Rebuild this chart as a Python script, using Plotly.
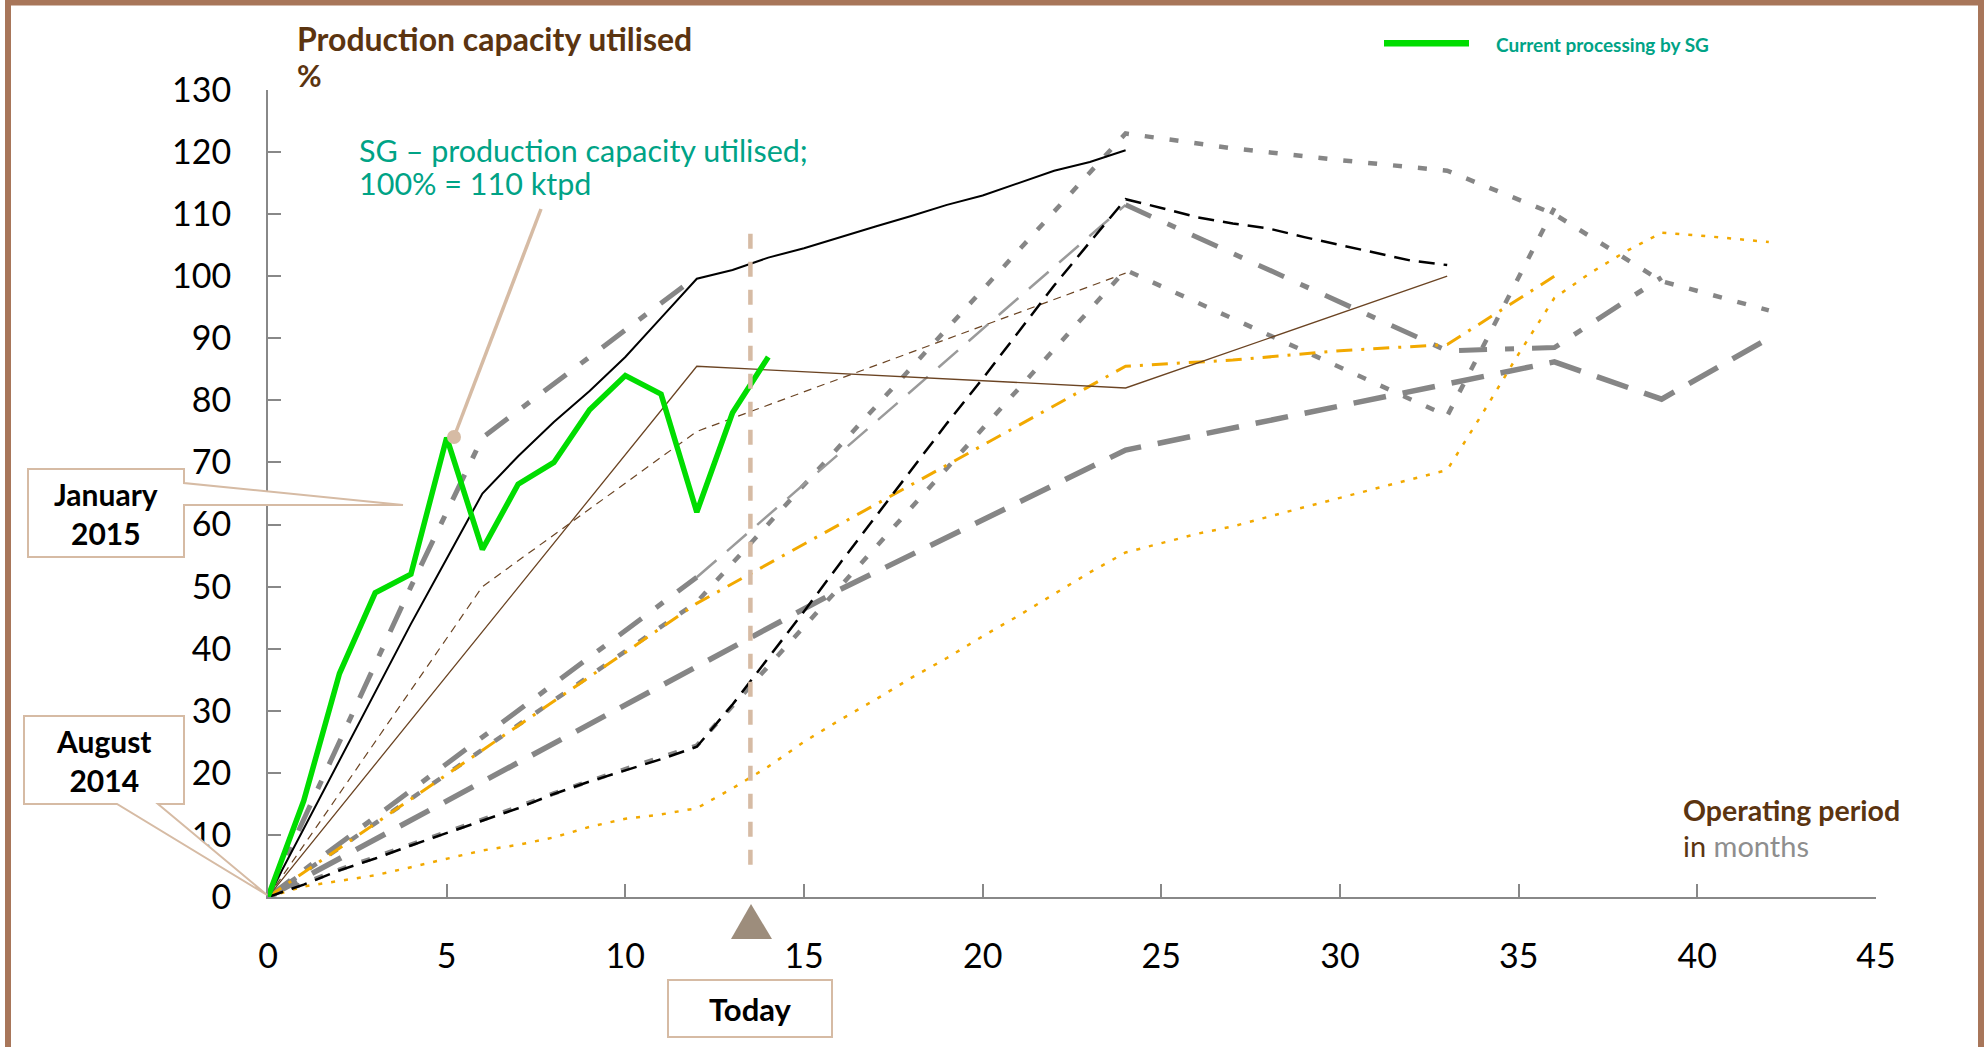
import plotly.graph_objects as go

# ---------------- data ----------------
x_ticks = [0, 5, 10, 15, 20, 25, 30, 35, 40, 45]
y_ticks = list(range(0, 131, 10))

# current processing by SG (monthly)
sg_months = list(range(0, 15))
sg_util = [0, 15.5, 36, 49, 52, 74, 56, 66.5, 70, 78.5, 84, 81, 62, 78, 87]

# reference plants
black_solid_months = list(range(0, 25))
black_solid = [0, 11, 22, 33, 44, 54.5, 65, 71, 76.5, 81.5, 87, 93.3, 99.6,
               101, 103, 104.5, 106.3, 108, 109.7, 111.5, 113, 115, 117, 118.4, 120.3]

gray_dashdot_a_months = [0, 4, 6, 12]
gray_dashdot_a = [0, 50, 74, 100]

brown_solid_months = [0, 12, 24, 33]
brown_solid = [0, 85.5, 82, 100]

brown_dashed_months = [0, 6, 12, 24]
brown_dashed = [0, 50, 75, 100.5]

black_dashed_months = list(range(0, 34))
black_dashed = [0, 2, 4.3, 6.2, 8.3, 10.3, 12.2, 14.3, 16.6, 18.6, 20.4, 22.2, 24.2,
                31, 38.5, 46, 53.7, 61.2, 68.8, 76.3, 83.5, 91, 98.5, 105.5, 112.4,
                111, 109.5, 108.5, 107.7, 106.3, 105, 103.7, 102.5, 101.8]

gray_dot_a_months = [0, 12, 24, 27, 30, 33, 36, 39, 42]
gray_dot_a = [0, 47.5, 123, 120.6, 118.7, 117, 110, 99.2, 94.5]

gray_dot_b_months = list(range(0, 13)) + [24, 33, 36]
gray_dot_b = [0, 2.2, 4.4, 6.4, 8.4, 10.5, 12.5, 14.5, 16.7, 18.7, 20.6, 22.5, 24.4,
              101, 77.5, 111]

gray_dashdot_b_months = [0, 12, 24, 27, 30, 33, 36, 39]
gray_dashdot_b = [0, 51.5, 111.5, 103.6, 95.7, 88, 88.5, 99.8]

gray_longdash_months = [0, 16, 24, 27, 30, 33, 36, 39, 42]
gray_longdash = [0, 49.5, 72, 75.6, 79.2, 82.8, 86.2, 80.2, 90]

orange_dashdot_months = [0, 12, 24, 27, 30, 33, 36]
orange_dashdot = [0, 47.3, 85.5, 86.5, 88, 89, 100]

orange_dotted_months = list(range(0, 43))
orange_dotted = [0, 1.7, 2.6, 3.5, 4.8, 6.2, 7.5, 8.4, 9.6, 11.3, 12.6, 13.3, 14.3,
                 17.5, 21, 25, 28.5, 31.8, 35.3, 38.5, 42, 45.3, 48.8, 52.3, 55.5,
                 57, 58.5, 59.7, 61.3, 62.8, 64.3, 65.8, 67.3, 68.8,
                 78, 87.5, 96.5, 100.5, 104, 107, 106.6, 106, 105.5]

today_month = 13.5
today_line_span = [5.2, 107]

# ---------------- styling ----------------
GRAY = "#868686"
ORANGE = "#F2A900"
BROWN = "#6B4423"
GREEN = "#00DD00"
TEAL = "#00A386"
TITLE_BROWN = "#5B3410"
TAN = "#D6BBA4"
FRAME = "#A8765A"
FONT = "Lato"

W, H = 1986, 1047
L, R, T, B = 268, 1876, 90, 897


def px(x):
    return (x - L) / (R - L)


def py(y):
    return (B - y) / (B - T)


fig = go.Figure()


def add_line(xs, ys, color, width, dash="solid"):
    fig.add_trace(go.Scatter(x=xs, y=ys, mode="lines", showlegend=False,
                             hoverinfo="skip",
                             line=dict(color=color, width=width, dash=dash)))


add_line(gray_longdash_months, gray_longdash, GRAY, 5.5, "33px,17px")
add_line(gray_dot_b_months, gray_dot_b, GRAY, 4.5, "9px,16px")
add_line(gray_dot_a_months, gray_dot_a, GRAY, 4.5, "9px,16px")

# long dash-dot series: the 12-24 month stretch is drawn thinner
i12 = gray_dashdot_b_months.index(12)
i24 = gray_dashdot_b_months.index(24)
add_line(gray_dashdot_b_months[:i12 + 1], gray_dashdot_b[:i12 + 1], GRAY, 5, "28px,18px,9px,18px")
add_line(gray_dashdot_b_months[i12:i24 + 1], gray_dashdot_b[i12:i24 + 1], "#9A9A9A", 2.5, "26px,14px")
add_line(gray_dashdot_b_months[i24:], gray_dashdot_b[i24:], GRAY, 5, "28px,18px,9px,18px")

add_line(orange_dotted_months, orange_dotted, ORANGE, 2.5, "4px,9px")
add_line(orange_dashdot_months, orange_dashdot, ORANGE, 3, "16px,9px,3px,9px")
add_line(gray_dashdot_a_months, gray_dashdot_a, GRAY, 5, "28px,18px,9px,18px")
add_line(brown_solid_months, brown_solid, BROWN, 1.3)
add_line(brown_dashed_months, brown_dashed, BROWN, 1.2, "8px,6px")
add_line(black_dashed_months, black_dashed, "black", 2.5, "16px,9px")
add_line(black_solid_months, black_solid, "black", 2)
fig.add_trace(go.Scatter(x=sg_months, y=sg_util, mode="lines", showlegend=False,
                         hoverinfo="skip",
                         line=dict(color=GREEN, width=5.5)))

shapes = []
# outer frame
shapes.append(dict(type="rect", xref="paper", yref="paper",
                   x0=px(8), x1=px(1981), y0=py(2.5), y1=py(1080),
                   line=dict(color=FRAME, width=6), fillcolor="rgba(0,0,0,0)", layer="above"))
# "today" marker line
shapes.append(dict(type="line", xref="x", yref="y", x0=today_month, x1=today_month,
                   y0=today_line_span[0], y1=today_line_span[1],
                   line=dict(color=TAN, width=4.5, dash="15px,13px"), layer="above"))
# "today" triangle below the axis
shapes.append(dict(type="path", xref="paper", yref="paper",
                   path=f"M {px(731)} {py(939)} L {px(751)} {py(904)} L {px(772)} {py(939)} Z",
                   fillcolor="#9D8D7C", line=dict(width=0)))
# "Today" box
shapes.append(dict(type="rect", xref="paper", yref="paper",
                   x0=px(668), x1=px(832), y0=py(1037), y1=py(980),
                   line=dict(color=TAN, width=2), fillcolor="white"))
# "August 2014" callout
aug = [(24, 716), (184, 716), (184, 804), (158, 804), (267, 895), (117, 804), (24, 804)]
shapes.append(dict(type="path", xref="paper", yref="paper",
                   path="M " + " L ".join(f"{px(a)} {py(b)}" for a, b in aug) + " Z",
                   line=dict(color=TAN, width=2), fillcolor="white", layer="above"))
# "January 2015" callout
jan = [(28, 469), (184, 469), (184, 483), (403, 505), (184, 505), (184, 557), (28, 557)]
shapes.append(dict(type="path", xref="paper", yref="paper",
                   path="M " + " L ".join(f"{px(a)} {py(b)}" for a, b in jan) + " Z",
                   line=dict(color=TAN, width=2), fillcolor="white", layer="above"))
# pointer for the SG note
shapes.append(dict(type="line", xref="paper", yref="paper",
                   x0=px(541), y0=py(209), x1=px(454), y1=py(437),
                   line=dict(color=TAN, width=3.5), layer="above"))
shapes.append(dict(type="circle", xref="paper", yref="paper",
                   x0=px(447), x1=px(461), y0=py(444), y1=py(430),
                   fillcolor=TAN, line=dict(width=0), layer="above"))
# legend swatch
shapes.append(dict(type="line", xref="paper", yref="paper",
                   x0=px(1384), x1=px(1469), y0=py(43.3), y1=py(43.3),
                   line=dict(color=GREEN, width=6.5)))


def note(x, y, text, size, color="black", bold=False, xanchor="left", align="left"):
    if bold:
        text = f"<b>{text}</b>"
    return dict(xref="paper", yref="paper", x=px(x), y=py(y), text=text,
                showarrow=False, xanchor=xanchor, yanchor="middle", align=align,
                font=dict(family=FONT, size=size, color=color))


annotations = [
    note(295, 38, "Production capacity utilised", 32, TITLE_BROWN, True),
    note(295, 75, "%", 30, TITLE_BROWN, True),
    note(1681, 810, "Operating period", 28.5, TITLE_BROWN, True),
    note(1681, 845, f"in <span style='color:#8E8E8E'>months</span>", 29, TITLE_BROWN),
    note(357, 150, "SG – production capacity utilised;", 30.5, TEAL),
    note(357, 183, "100% = 110 ktpd", 30.5, TEAL),
    note(1494, 45, "Current processing by SG", 19, TEAL, True),
    note(106, 513, "January<br>2015", 30, "black", True, "center", "center"),
    note(104, 760, "August<br>2014", 30, "black", True, "center", "center"),
    note(750, 1009, "Today", 31, "black", True, "center", "center"),
]

axis_common = dict(showline=True, linecolor="#888888", linewidth=2, ticks="inside",
                   ticklen=13, tickwidth=2, tickcolor="#888888", showgrid=False,
                   zeroline=False, tickfont=dict(family=FONT, size=34, color="black"))

fig.update_layout(
    width=W, height=H,
    margin=dict(l=L, r=W - R, t=T, b=H - B, pad=0),
    paper_bgcolor="white", plot_bgcolor="white",
    xaxis=dict(range=[0, 45], tickvals=x_ticks, ticklabelstandoff=28, **axis_common),
    yaxis=dict(range=[0, 130], tickvals=y_ticks, ticklabelstandoff=28, **axis_common),
    shapes=shapes, annotations=annotations,
)

fig.write_html("out.html")
